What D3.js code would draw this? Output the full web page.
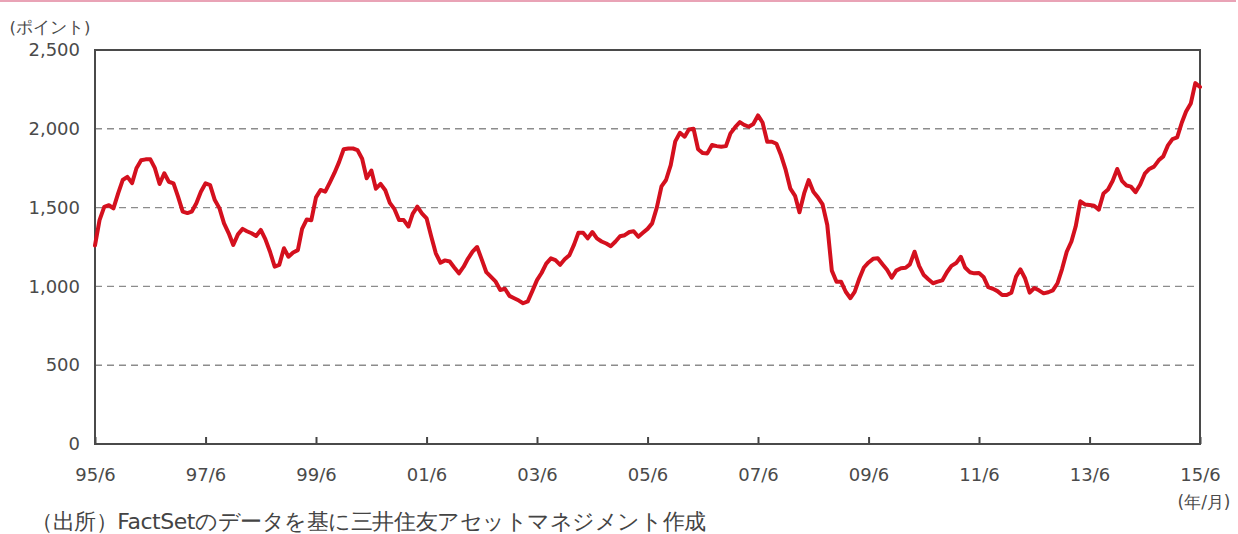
<!DOCTYPE html>
<html><head><meta charset="utf-8">
<script src="https://cdn.jsdelivr.net/npm/d3@7"></script>
<style>body{margin:0;background:#fff} text{font-family:"DejaVu Sans",sans-serif}</style>
</head><body><svg id="c" width="1238" height="534"></svg>
<script>
const startMonth = "1995-06";
// monthly index level (points), 1995/6 .. 2015/6
const values = [
1260,1420,1505,1515,1495,1590,1675,1695,1655,1750,1800,1806,1806,1750,1650,1718,1664,1654,1570,1474,
1465,1474,1527,1600,1654,1643,1548,1495,1400,1337,1263,1330,1365,1350,1337,1320,1358,1300,1220,1125,
1136,1242,1188,1215,1230,1365,1425,1420,1565,1612,1601,1660,1720,1790,1870,1875,1875,1865,1810,1686,
1735,1620,1650,1610,1530,1490,1421,1421,1380,1460,1506,1464,1432,1320,1210,1150,1165,1158,1120,1083,
1125,1175,1220,1250,1170,1090,1060,1030,977,985,940,925,910,893,905,970,1040,1085,1145,1178,
1167,1137,1172,1198,1265,1340,1340,1305,1345,1305,1285,1272,1255,1285,1318,1325,1345,1350,1315,1340,
1365,1400,1500,1635,1675,1770,1920,1975,1950,1995,2000,1870,1846,1844,1897,1890,1886,1890,1971,2010,
2042,2025,2013,2030,2085,2040,1918,1918,1905,1830,1739,1620,1575,1470,1590,1675,1600,1565,1520,1390,
1100,1030,1030,966,925,965,1050,1120,1152,1175,1178,1140,1105,1055,1100,1115,1118,1140,1220,1130,
1072,1045,1020,1030,1038,1090,1130,1148,1188,1120,1090,1083,1085,1060,995,985,970,945,945,960,
1062,1108,1050,960,990,975,956,963,975,1020,1110,1220,1285,1380,1540,1520,1516,1512,1487,1590,
1615,1670,1745,1670,1640,1633,1598,1645,1715,1745,1760,1800,1825,1895,1935,1945,2040,2110,2160,2290,
2265
];
const xTickLabels = ["95/6","97/6","99/6","01/6","03/6","05/6","07/6","09/6","11/6","13/6","15/6"];
const yTicks = [0,500,1000,1500,2000,2500];
const yUnit = "(ポイント)";
const xUnit = "(年/月)";
const source = "（出所）FactSetのデータを基に三井住友アセットマネジメント作成";

const svg = d3.select("#c");
const L = 95, R = 1200, T = 50, B = 444;
const t0 = d3.timeParse("%Y-%m")(startMonth);
const data = values.map((v, i) => ({ date: d3.timeMonth.offset(t0, i), v }));
const tickDates = xTickLabels.map(s => d3.timeParse("%y/%m")(s));

const x = d3.scaleTime().domain([tickDates[0], tickDates[tickDates.length - 1]]).range([L, R]);
const y = d3.scaleLinear().domain([0, 2500]).range([B, T]);

// top decorative rule
svg.append("line").attr("x1", 0).attr("x2", 1236).attr("y1", 1).attr("y2", 1)
  .attr("stroke", "#e9a3b6").attr("stroke-width", 2);

// grid lines
svg.append("g").selectAll("line").data(yTicks.filter(d => d > 0 && d < 2500)).join("line")
  .attr("x1", L).attr("x2", R).attr("y1", d => y(d)).attr("y2", d => y(d))
  .attr("stroke", "#8c8c8c").attr("stroke-width", 1.4).attr("stroke-dasharray", "7,5");

// y axis labels
const ya = svg.append("g").attr("transform", `translate(${L},0)`)
  .call(d3.axisLeft(y).tickValues(yTicks).tickSize(0).tickPadding(15).tickFormat(d3.format(",")));
ya.select(".domain").remove();
ya.selectAll("text").attr("font-size", 18).attr("fill", "#4a4a4a").attr("font-family", "DejaVu Sans");

// x axis
const xa = svg.append("g").attr("transform", `translate(0,${B})`)
  .call(d3.axisBottom(x).tickValues(tickDates).tickSize(-7).tickPadding(24)
    .tickFormat((d, i) => xTickLabels[i]));
xa.select(".domain").remove();
xa.selectAll("line").attr("stroke", "#444").attr("stroke-width", 2);
xa.selectAll("text").attr("font-size", 18).attr("fill", "#4a4a4a").attr("font-family", "DejaVu Sans");

// frame
svg.append("rect").attr("x", L).attr("y", T).attr("width", R - L).attr("height", B - T)
  .attr("fill", "none").attr("stroke", "#4a4a4a").attr("stroke-width", 2);

// line
svg.append("path").datum(data)
  .attr("fill", "none").attr("stroke", "#d4101e").attr("stroke-width", 4)
  .attr("stroke-linejoin", "round").attr("stroke-linecap", "round")
  .attr("d", d3.line().x(d => x(d.date)).y(d => y(d.v)));

// unit labels
svg.append("text").attr("x", 50).attr("y", 27).attr("text-anchor", "middle").attr("dy", "0.35em")
  .attr("font-family", "Noto Sans CJK JP").attr("font-size", 16.5).attr("font-weight", 500).attr("fill", "#4a4a4a").text(yUnit);
svg.append("text").attr("x", 1204).attr("y", 502).attr("text-anchor", "middle").attr("dy", "0.35em")
  .attr("font-family", "Noto Sans CJK JP").attr("font-size", 17).attr("font-weight", 500).attr("fill", "#4a4a4a").text(xUnit);

// source
svg.append("text").attr("x", 31).attr("y", 521).attr("dy", "0.35em")
  .attr("font-family", "Noto Sans CJK JP").attr("font-size", 22).attr("letter-spacing", "-0.45px")
  .attr("fill", "#444").text(source);
</script></body></html>
